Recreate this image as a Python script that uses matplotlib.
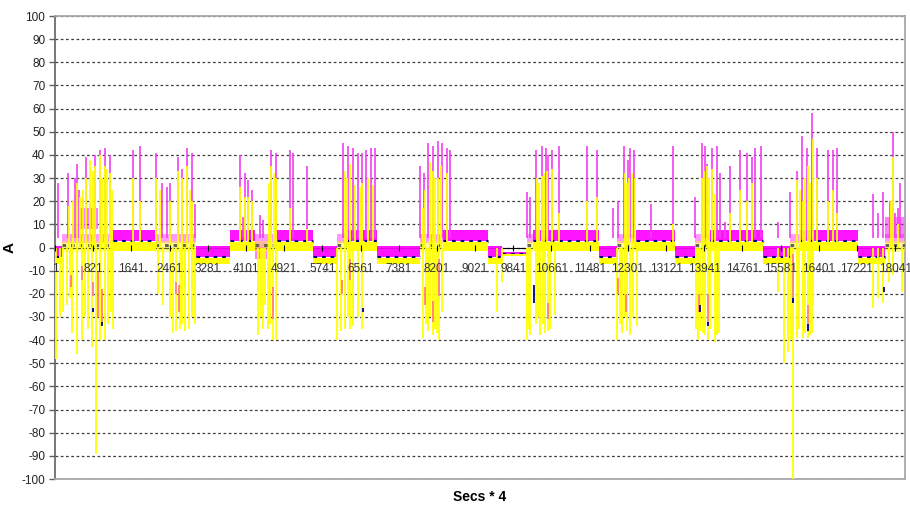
import matplotlib
matplotlib.use('Agg')
import matplotlib.pyplot as plt

plt.rcParams['font.family'] = ['Liberation Sans', 'DejaVu Sans']
plt.rcParams['axes.unicode_minus'] = False

# --- data (x = sample index, "Secs * 4"; y = current in A) ---
n_samples = 18250
x_tick_labels = [1, 821, 1641, 2461, 3281, 4101, 4921, 5741, 6561, 7381, 8201, 9021,
                 9841, 10661, 11481, 12301, 13121, 13941, 14761, 15581, 16401, 17221, 18041]

# flat stretches between bursts
plateau_start = [0, 1250, 3030, 3760, 4770, 5540, 6270, 6910, 8330, 9300, 9600,
                 10260, 11680, 12470, 13310, 14060, 15200, 16000, 17240]
plateau_end = [150, 2170, 3760, 4300, 5540, 6060, 6910, 7840, 9300, 9600, 10130,
               11680, 12070, 13310, 13740, 15200, 15780, 17240, 17820]
plateau_kind = ['low', 'high', 'low', 'high', 'high', 'low', 'high', 'low', 'high', 'low', 'idle',
                'high', 'low', 'high', 'low', 'high', 'low', 'high', 'low']

# bursts of switching
burst_start = [150, 2170, 4300, 6060, 7840, 10130, 12070, 13740, 15780, 17820]
burst_end = [1250, 3030, 4770, 6270, 8330, 10260, 12470, 14060, 16000, 18250]

# band levels of each series: high / low / idle flats, then bursts
band_kinds = ['high', 'low', 'idle', 'burst']
magenta_lo = [3.0, -4.0, -3.2, 2.0]
magenta_hi = [7.5, 0.5, -2.0, 6.0]
navy_level = [2.6, -4.0, -2.8, 1.0]
yellow_lo = [-1.5, -7.0, -3.6, -2.0]
yellow_hi = [2.5, -4.5, -2.6, 3.0]

# extra magenta stretches (start, end, low, high)
magenta_extra = [(540, 920, 8, 17), (4300, 4560, -5, 2), (17820, 18250, 4, 13)]

# spikes: (sample, peak value)
magenta_peaks = [
    (60, 28), (280, 32), (390, 10), (430, 30), (470, 36), (520, 25), (600, 22), (670, 39),
    (750, 20), (860, 40), (970, 42), (1070, 43), (1180, 40), (1680, 42), (1830, 44),
    (2170, 41), (2300, 28), (2410, 26), (2470, 28), (2640, 39), (2730, 34), (2830, 43),
    (2940, 41), (3010, 19), (3970, 40), (4040, 13), (4080, 32), (4140, 29), (4230, 25),
    (4400, 14), (4470, 12), (4640, 42), (4750, 41), (5050, 42), (5110, 41), (5410, 35),
    (6180, 45), (6290, 44), (6400, 43), (6510, 41), (6590, 41), (6680, 42), (6790, 43),
    (6870, 43), (7840, 35), (7920, 32), (8010, 45), (8120, 44), (8220, 46), (8310, 45),
    (8420, 43), (8480, 42), (10130, 24), (10200, 22), (10330, 42), (10460, 44), (10540, 43),
    (10590, 40), (10670, 42), (10820, 44), (11420, 44), (11640, 42), (11980, 17), (12090, 20),
    (12220, 44), (12300, 38), (12350, 43), (12430, 42), (12800, 19), (13270, 44), (13740, 22),
    (13890, 45), (13960, 44), (14000, 36), (14110, 43), (14210, 44), (14280, 32), (14390, 11),
    (14490, 35), (14710, 42), (14860, 41), (14960, 39), (15030, 43), (15160, 44), (15520, 11),
    (15780, 24), (15930, 33), (16040, 48), (16150, 43), (16250, 58), (16360, 43), (16600, 42),
    (16700, 42), (16790, 43), (17560, 23), (17670, 15), (17780, 24), (17930, 20), (17990, 50),
    (18040, 15), (18100, 17), (18140, 28),
]
yellow_peaks = [
    (300, 18), (380, 20), (470, 28), (540, 22), (600, 25), (670, 30), (750, 38), (820, 33),
    (860, 35), (970, 40), (1010, 30), (1070, 35), (1120, 34), (1180, 32), (1220, 25),
    (1680, 30), (1830, 20), (2170, 30), (2250, 25), (2470, 20), (2640, 33), (2720, 30),
    (2830, 35), (2900, 25), (2940, 20), (3970, 26), (4080, 22), (4140, 22), (4230, 20),
    (4600, 28), (4640, 35), (4700, 32), (4750, 30), (5050, 17), (5410, 8), (6230, 33),
    (6280, 30), (6330, 36), (6440, 27), (6550, 26), (6600, 28), (6720, 30), (6830, 27),
    (7900, 17), (7950, 25), (8050, 37), (8110, 33), (8160, 30), (8220, 30), (8290, 35),
    (8420, 32), (10350, 30), (10400, 28), (10460, 31), (10500, 32), (10560, 33), (10670, 34),
    (10820, 15), (11420, 20), (11640, 22), (12240, 32), (12280, 28), (12330, 30), (12390, 32),
    (12450, 30), (13270, 10), (13890, 30), (13940, 33), (14000, 35), (14050, 30), (14110, 34),
    (14170, 23), (14490, 15), (14710, 25), (14860, 20), (14960, 28), (15930, 29), (16000, 25),
    (16060, 20), (16110, 30), (16170, 35), (16220, 28), (16280, 47), (16360, 30), (16600, 20),
    (16700, 25), (16790, 15), (17950, 20), (17990, 39), (18100, 10),
]
yellow_dips = [
    (20, -48), (100, -30), (170, -28), (260, -25), (330, -22), (365, -37), (470, -46),
    (580, -40), (640, -30), (720, -35), (790, -43), (880, -89), (970, -40), (1070, -40),
    (1130, -33), (1200, -28), (1240, -35), (2220, -20), (2330, -25), (2460, -30), (2530, -37),
    (2600, -36), (2680, -35), (2720, -33), (2790, -36), (2880, -35), (2950, -30), (3010, -33),
    (4360, -38), (4420, -30), (4470, -35), (4520, -25), (4570, -35), (4620, -33), (4680, -40),
    (4740, -40), (6060, -40), (6140, -36), (6230, -35), (6290, -30), (6330, -35), (6400, -34),
    (6500, -30), (6590, -35), (7900, -39), (7960, -33), (8010, -36), (8060, -30), (8120, -38),
    (8160, -35), (8200, -37), (8250, -40), (8300, -28), (9490, -28), (9600, -15), (10130, -40),
    (10170, -35), (10200, -38), (10330, -33), (10380, -30), (10410, -38), (10470, -33),
    (10520, -37), (10580, -36), (10630, -35), (10740, -29), (12070, -40), (12130, -33),
    (12180, -37), (12230, -30), (12280, -36), (12350, -38), (12420, -30), (12500, -34),
    (13760, -35), (13810, -40), (13860, -36), (13910, -37), (13960, -38), (14020, -40),
    (14060, -35), (14170, -41), (14220, -38), (14260, -37), (15520, -19), (15650, -50),
    (15740, -45), (15800, -40), (15850, -100), (15930, -39), (15980, -35), (16060, -39),
    (16110, -37), (16170, -39), (16210, -38), (16250, -37), (16280, -25), (17560, -26),
    (17670, -22), (17780, -24), (17900, -15), (18000, -12), (18190, -19),
]
# magenta dips that sit over yellow ones (sample, low, high)
magenta_dips = [
    (340, -17, -12), (580, -14, -8), (820, -21, -15), (920, -30, -10), (1010, -33, -18),
    (2600, -20, -15), (2660, -28, -16), (4680, -31, -17), (6160, -20, -14), (6330, -14, -5),
    (7940, -25, -17), (8120, -32, -23), (8250, -21, -5), (10590, -31, -24), (12090, -20, -13),
    (12260, -28, -20), (13830, -28, -20), (14020, -33, -20), (15850, -24, -3), (16170, -34, -25),
]
navy_dips = [
    (816, -28, -26), (1010, -34, -32), (6610, -28, -26), (10280, -24, -16), (13850, -28, -25),
    (14020, -34, -32), (15850, -24, -22), (16170, -36, -33), (17800, -19, -17),
]

MAGENTA = '#FF00FF'
SPIKE_MAGENTA = '#F040F0'
YELLOW = '#FFFF00'
NAVY = '#000080'
BLEND = '#FF7F80'

fig = plt.figure(figsize=(9.10, 5.07), dpi=100)
ax = fig.add_axes([0.0604, 0.0552, 0.934, 0.9132])

spans = [(s, e, k) for s, e, k in zip(plateau_start, plateau_end, plateau_kind)]
spans += [(s, e, 'burst') for s, e in zip(burst_start, burst_end)]

# zero line of the category axis sits behind the series
ax.axhline(0, color='black', lw=0.8, zorder=1.5)

# magenta series
for s, e, k in spans:
    i = band_kinds.index(k)
    a = 0.4 if k == 'burst' else 0.92
    ax.fill_between([s, e], magenta_lo[i], magenta_hi[i], color=MAGENTA, lw=0, alpha=a, zorder=2)
for s, e, lo, hi in magenta_extra:
    ax.fill_between([s, e], lo, hi, color=MAGENTA, lw=0, alpha=0.5, zorder=2)
px, pt = zip(*magenta_peaks)
ax.vlines(px, 4, pt, color=SPIKE_MAGENTA, lw=1.2, zorder=2)

# navy series
for s, e, k in spans:
    i = band_kinds.index(k)
    ax.hlines(navy_level[i], s, e, color=NAVY, lw=2.2, linestyle=(0, (1.2, 1.6)), zorder=3)

# yellow series
for s, e, k in spans:
    i = band_kinds.index(k)
    a = 0.4 if k == 'burst' else 1.0
    ax.fill_between([s, e], yellow_lo[i], yellow_hi[i], color=YELLOW, lw=0, alpha=a, zorder=4)
yx, yt = zip(*yellow_peaks)
ax.vlines(yx, 0, yt, color=YELLOW, lw=1.3, zorder=4)
dx, dt = zip(*yellow_dips)
ax.vlines(dx, 0, dt, color=YELLOW, lw=1.3, zorder=4)

mx, mlo, mhi = zip(*magenta_dips)
ax.vlines(mx, mlo, mhi, color=BLEND, lw=1.3, zorder=5)
nx, nlo, nhi = zip(*navy_dips)
ax.vlines(nx, nlo, nhi, color=NAVY, lw=1.3, zorder=6)

# axes, grid
ax.set_xlim(0, n_samples)
ax.set_ylim(-100, 100)
ax.set_yticks(range(-100, 101, 10))
ax.set_xticks([])
ax.grid(axis='y', color='#404040', linestyle=(0, (2.2, 2.0)), linewidth=0.9)
ax.set_axisbelow(True)
ax.tick_params(axis='y', direction='out', length=4, width=1, color='#606060',
               labelsize=8.5, labelcolor='#222222', pad=3)
for side in ['top', 'right', 'bottom']:
    ax.spines[side].set_color('#A8A8A8')
    ax.spines[side].set_linewidth(1.3)
ax.spines['left'].set_color('#606060')
ax.spines['left'].set_linewidth(1.2)

# category axis crossing at zero, labels just below it
sec = ax.secondary_xaxis(0.5)
sec.set_zorder(10)
sec.set_xticks(x_tick_labels, [str(v) for v in x_tick_labels])
sec.xaxis.set_ticks_position('bottom')
for side in sec.spines:
    sec.spines[side].set_visible(False)
sec.tick_params(axis='x', direction='inout', length=4, width=0.8, color='black',
                labelsize=8.5, labelcolor='#333333', pad=9,
                labelbottom=True, labeltop=False, bottom=True, top=False)

ax.set_ylabel('A', fontsize=11, fontweight='bold')
ax.yaxis.set_label_coords(-0.045, 0.5)
ax.set_xlabel('Secs * 4', fontsize=10, fontweight='bold', labelpad=8)

fig.savefig('out.png', dpi=100)
